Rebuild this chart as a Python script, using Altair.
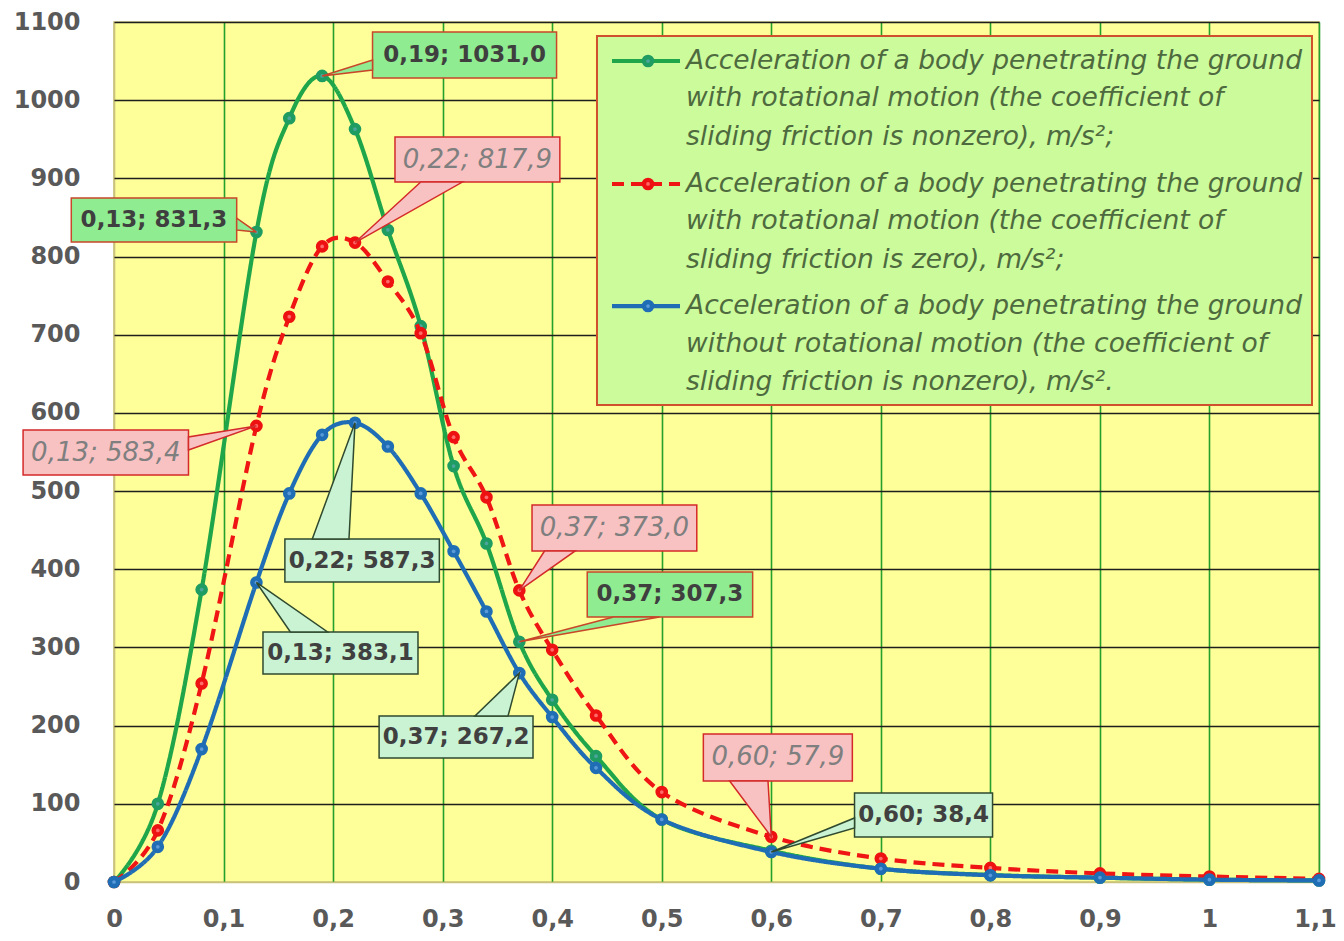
import altair as alt
import pandas as pd

# ---------------- data ----------------
X = [0, 0.04, 0.08, 0.13, 0.16, 0.19, 0.22, 0.25, 0.28, 0.31, 0.34, 0.37,
     0.40, 0.44, 0.50, 0.60, 0.70, 0.80, 0.90, 1.00, 1.10]
GREEN = [0, 100, 374, 831.3, 977, 1031.0, 963, 834, 711, 532, 433, 307.3,
         233, 161, 80, 40, 17, 9, 5.5, 3, 2]
RED = [0, 66, 254, 583.4, 723, 813, 817.9, 768, 702, 569, 492, 373.0,
       297, 213, 115, 57.9, 30, 18, 11, 7, 4]
BLUE = [0, 45, 170, 383.1, 497, 572, 587.3, 557, 497, 423, 346, 267.2,
        211, 146, 80, 38.4, 17, 8.6, 5.6, 3, 2]

SERIES = ["g", "r", "b"]
VALUES = {"g": GREEN, "r": RED, "b": BLUE}

X_TICKS = [0, 0.1, 0.2, 0.3, 0.4, 0.5, 0.6, 0.7, 0.8, 0.9, 1.0, 1.1]
Y_TICKS = [0, 100, 200, 300, 400, 500, 600, 700, 800, 900, 1000, 1100]

LEGEND_TEXT = {
    "g": ["Acceleration of a body penetrating the ground",
          "with rotational motion (the coefficient of",
          "sliding friction is nonzero), m/s²;"],
    "r": ["Acceleration of a body penetrating the ground",
          "with rotational motion (the coefficient of",
          "sliding friction is zero), m/s²;"],
    "b": ["Acceleration of a body penetrating the ground",
          "without rotational motion (the coefficient of",
          "sliding friction is nonzero), m/s²."],
}

# annotated points: (series, index into X)
ANNOTATED = [("g", 3), ("g", 5), ("g", 11),
             ("r", 3), ("r", 6), ("r", 11), ("r", 15),
             ("b", 3), ("b", 6), ("b", 11), ("b", 15)]

# ---------------- layout (data units) ----------------
CALLOUTS = {
    ("g", 3): dict(box=(-0.039, 0.112, 818.6, 874.9), kind="side", at=0.112, a=834, b=849),
    ("g", 5): dict(box=(0.236, 0.404, 1028.4, 1087.2), kind="side", at=0.236, a=1038.6, b=1051.4),
    ("g", 11): dict(box=(0.432, 0.583, 339.0, 396.5), kind="edge", at=339.0, a=0.456, b=0.498),
    ("r", 3): dict(box=(-0.083, 0.068, 520.6, 578.1), kind="side", at=0.068, a=552.6, b=569.2),
    ("r", 6): dict(box=(0.2565, 0.407, 895.3, 952.9), kind="edge", at=895.3, a=0.280, b=0.318),
    ("r", 11): dict(box=(0.3816, 0.532, 423.4, 482.2), kind="edge", at=423.4, a=0.393, b=0.421),
    ("r", 15): dict(box=(0.538, 0.674, 129.2, 189.3), kind="edge", at=129.2, a=0.562, b=0.597),
    ("b", 3): dict(box=(0.136, 0.2775, 266.0, 319.8), kind="edge", at=319.8, a=0.161, b=0.195),
    ("b", 6): dict(box=(0.156, 0.297, 383.7, 438.7), kind="edge", at=438.7, a=0.181, b=0.2145),
    ("b", 11): dict(box=(0.242, 0.3825, 158.6, 212.3), kind="edge", at=212.3, a=0.3295, b=0.3597),
    ("b", 15): dict(box=(0.676, 0.802, 57.6, 113.8), kind="side", at=0.676, a=69.1, b=81.9),
}

LEGEND_BOX = (0.4409, 1.0936, 610.1, 1082.1)
LEGEND_ROWS_Y = {"g": [1050.1, 1002.8, 952.9],
                 "r": [892.8, 845.5, 795.6],
                 "b": [736.7, 688.1, 639.5]}
LEGEND_SYM_X = (0.4546, 0.5167, 0.4875)
LEGEND_TEXT_X = 0.5222

# ---------------- styles ----------------
LINE_COLOR = {"g": "#1FA64A", "r": "#F01515", "b": "#1F6DB5"}
MARK_FILL = {"g": "#1E9C62", "r": "#EE1111", "b": "#1F6DB5"}
MARK_DOT = {"g": "#4BA59A", "r": "#FF6A6A", "b": "#5A9AD8"}
DASH = {"g": [1, 0], "r": [12, 7], "b": [1, 0]}
BOX_FILL = {"g": "#90EC90", "r": "#F8C2C2", "b": "#C9F3D3"}
BOX_STROKE = {"g": "#C8462A", "r": "#D42A2A", "b": "#2F4A2F"}
TXT_COLOR = {"g": "#3F3F3F", "r": "#7F7F7F", "b": "#404040"}
TXT_STYLE = {"g": ("bold", "normal", 23), "r": ("normal", "italic", 26),
             "b": ("bold", "normal", 23)}

xs = alt.Scale(domain=[0, 1.1], nice=False, zero=False)
ys = alt.Scale(domain=[0, 1100], nice=False, zero=False)

x_axis = alt.Axis(values=X_TICKS, title=None, grid=True,
                  gridColor=alt.condition("datum.value == 0", alt.value("#C9C27A"), alt.value("#24A02C")),
                  gridWidth=1.6, domain=False, ticks=False,
                  labelExpr="replace(format(datum.value, '.1~f'), '.', ',')",
                  labelOffset=alt.condition("datum.value > 1.05", alt.value(-4), alt.value(0)),
                  labelFont="DejaVu Sans", labelFontWeight="bold", labelFontSize=24,
                  labelColor="#595959", labelPadding=25, labelFlush=False, labelOverlap=False)
y_axis = alt.Axis(values=Y_TICKS, title=None, grid=True, format="d",
                  gridColor=alt.condition("datum.value == 0", alt.value("#C9C27A"), alt.value("#1E1E1E")),
                  gridWidth=1.6, domain=False, ticks=False,
                  labelFont="DejaVu Sans", labelFontWeight="bold", labelFontSize=24,
                  labelColor="#595959", labelPadding=34, labelFlush=False, labelOverlap=False)


def XE(f):
    return alt.X(f, type="quantitative", scale=xs, axis=x_axis)


def YE(f):
    return alt.Y(f, type="quantitative", scale=ys, axis=y_axis)


layers = []

# series lines and markers
for s in SERIES:
    df = pd.DataFrame({"x": X, "y": VALUES[s]})
    base = alt.Chart(df)
    layers.append(base.mark_line(color=LINE_COLOR[s], strokeWidth=4.2, strokeDash=DASH[s],
                                 interpolate="cardinal", strokeCap="butt")
                  .encode(x=XE("x"), y=YE("y")))
    layers.append(base.mark_circle(color=MARK_FILL[s], opacity=1, size=160)
                  .encode(x=XE("x"), y=YE("y")))
    layers.append(base.mark_circle(color=MARK_DOT[s], opacity=1, size=14)
                  .encode(x=XE("x"), y=YE("y")))


def fmt(v, d):
    return f"{v:.{d}f}".replace(".", ",")


# callouts
for (s, i) in ANNOTATED:
    c = CALLOUTS[(s, i)]
    x0, x1, y0, y1 = c["box"]
    tx, ty = X[i], VALUES[s][i]
    label = f"{fmt(tx, 2)}; {fmt(ty, 1)}"
    if c["kind"] == "side":
        pdf = pd.DataFrame({"px": [c["at"], tx], "py": [c["a"], ty], "py2": [c["b"], ty]})
        ptr = alt.Chart(pdf).mark_area(fill=BOX_FILL[s], stroke=BOX_STROKE[s], strokeWidth=1.5,
                                       opacity=1, strokeJoin="miter").encode(
            x=XE("px"), y=YE("py"), y2="py2")
    else:
        pdf = pd.DataFrame({"py": [c["at"], ty], "px": [c["a"], tx], "px2": [c["b"], tx]})
        ptr = alt.Chart(pdf).mark_area(fill=BOX_FILL[s], stroke=BOX_STROKE[s], strokeWidth=1.5,
                                       opacity=1, orient="horizontal", strokeJoin="miter").encode(
            y=YE("py"), x=XE("px"), x2="px2")
    bdf = pd.DataFrame({"x0": [x0], "x1": [x1], "y0": [y0], "y1": [y1],
                        "xc": [(x0 + x1) / 2], "yc": [(y0 + y1) / 2], "label": [label]})
    box = alt.Chart(bdf).mark_rect(fill=BOX_FILL[s], stroke=BOX_STROKE[s], strokeWidth=1.5).encode(
        x=XE("x0"), x2="x1", y=YE("y0"), y2="y1")
    fw, fs, size = TXT_STYLE[s]
    txt = alt.Chart(bdf).mark_text(font="DejaVu Sans", fontWeight=fw, fontStyle=fs, fontSize=size,
                                   color=TXT_COLOR[s], align="center", baseline="middle").encode(
        x=XE("xc"), y=YE("yc"), text="label:N")
    layers += [box, ptr, txt]

# legend
lx0, lx1, ly0, ly1 = LEGEND_BOX
ldf = pd.DataFrame({"x0": [lx0], "x1": [lx1], "y0": [ly0], "y1": [ly1]})
layers.append(alt.Chart(ldf).mark_rect(fill="#CCFB9C", stroke="#D0502E", strokeWidth=2).encode(
    x=XE("x0"), x2="x1", y=YE("y0"), y2="y1"))
for s in SERIES:
    yy = LEGEND_ROWS_Y[s]
    sdf = pd.DataFrame({"x": [LEGEND_SYM_X[0], LEGEND_SYM_X[1]], "y": [yy[0], yy[0]]})
    layers.append(alt.Chart(sdf).mark_line(color=LINE_COLOR[s], strokeWidth=4.2, strokeDash=DASH[s],
                                           strokeCap="butt").encode(x=XE("x"), y=YE("y")))
    mdf = pd.DataFrame({"x": [LEGEND_SYM_X[2]], "y": [yy[0]]})
    layers.append(alt.Chart(mdf).mark_circle(color=MARK_FILL[s], opacity=1, size=160).encode(
        x=XE("x"), y=YE("y")))
    layers.append(alt.Chart(mdf).mark_circle(color=MARK_DOT[s], opacity=1, size=14).encode(
        x=XE("x"), y=YE("y")))
    tdf = pd.DataFrame({"x": [LEGEND_TEXT_X] * 3, "y": yy, "t": LEGEND_TEXT[s]})
    layers.append(alt.Chart(tdf).mark_text(font="DejaVu Sans", fontStyle="italic", fontSize=26.5,
                                           color="#4E6A3E", align="left", baseline="middle").encode(
        x=XE("x"), y=YE("y"), text="t:N"))

chart = alt.layer(*layers).properties(
    width=1205, height=860,
    autosize=alt.AutoSizeParams(type="none"),
    padding={"left": 106, "top": 14, "right": 17, "bottom": 51},
    background="white",
).configure_view(fill="#FFFF99", stroke="#C9C27A", strokeWidth=1.6)

chart.save("out.html", embed_options={"renderer": "svg", "actions": False})
